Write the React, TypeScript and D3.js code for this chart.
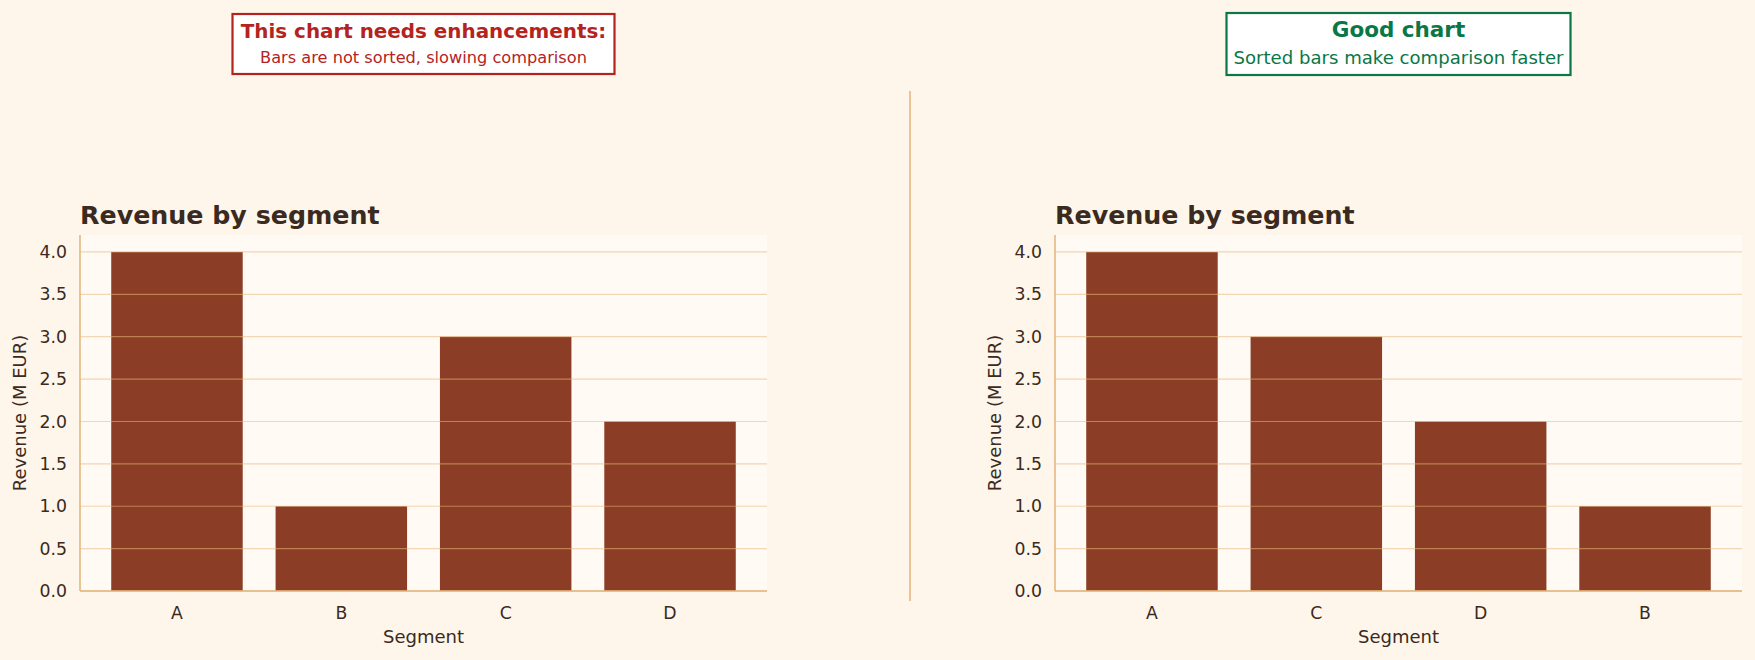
import React from 'react';
import * as d3 from 'd3';

// data
const segments = ['A', 'B', 'C', 'D'];
const revenue = [4, 1, 3, 2];
const yTicks = [0, 0.5, 1, 1.5, 2, 2.5, 3, 3.5, 4];

const W = 1755;
const H = 660;
const top = 235;
const bottom = 591;
const font = 'DejaVu Sans, sans-serif';
const ink = '#3a2a20';
const spine = '#e3b37a';
const barColor = '#8b3e25';

const y = d3.scaleLinear().domain([0, 4.2]).range([bottom, top]);

function Panel({ x0, x1, order, box }) {
  const data = order.map((s) => ({ seg: s, value: revenue[segments.indexOf(s)] }));
  const x = d3
    .scaleBand()
    .domain(order)
    .range([x0, x1])
    .paddingInner(0.2)
    .paddingOuter(0.19);
  const cx = (x0 + x1) / 2;
  return (
    <g fontFamily={font}>
      <rect x={x0} y={top} width={x1 - x0} height={bottom - top} fill="#fffaf3" />
      {data.map((d) => (
        <rect
          key={d.seg}
          x={x(d.seg)}
          y={y(d.value)}
          width={x.bandwidth()}
          height={bottom - y(d.value)}
          fill={barColor}
        />
      ))}
      {yTicks.map((t) => (
        <g key={t}>
          <line x1={x0} x2={x1} y1={y(t)} y2={y(t)} stroke="#eab880" strokeOpacity={0.55} strokeWidth={1.2} />
          <text x={x0 - 13} y={y(t)} dy="0.35em" textAnchor="end" fontSize={17.3} fill={ink}>
            {t.toFixed(1)}
          </text>
        </g>
      ))}
      <line x1={x0} x2={x0} y1={top} y2={bottom} stroke={spine} strokeWidth={1.5} />
      <line x1={x0} x2={x1} y1={bottom} y2={bottom} stroke={spine} strokeWidth={1.5} />
      {data.map((d) => (
        <text
          key={d.seg}
          x={x(d.seg) + x.bandwidth() / 2}
          y={619}
          textAnchor="middle"
          fontSize={17.3}
          fill={ink}
        >
          {d.seg}
        </text>
      ))}
      <text x={cx} y={643} textAnchor="middle" fontSize={18} fill={ink}>
        Segment
      </text>
      <text
        transform={`translate(${x0 - 54},${(top + bottom) / 2}) rotate(-90)`}
        textAnchor="middle"
        fontSize={18}
        fill={ink}
      >
        Revenue (M EUR)
      </text>
      <text x={x0} y={224} fontSize={25.3} fontWeight="bold" fill={ink}>
        Revenue by segment
      </text>
      <rect
        x={cx - box.w / 2}
        y={box.y0}
        width={box.w}
        height={box.h}
        fill="#ffffff"
        stroke={box.color}
        strokeWidth={2.2}
      />
      <text x={cx} y={box.t1} textAnchor="middle" fontSize={box.f1} fontWeight="bold" fill={box.color}>
        {box.title}
      </text>
      <text x={cx} y={box.t2} textAnchor="middle" fontSize={box.f2} fill={box.color}>
        {box.sub}
      </text>
    </g>
  );
}

export default function App() {
  const sorted = [...segments].sort(
    (a, b) => revenue[segments.indexOf(b)] - revenue[segments.indexOf(a)],
  );
  return (
    <svg
      width={W}
      height={H}
      style={{ position: 'absolute', left: 0, top: 0, background: '#fef6eb' }}
    >
      <rect width={W} height={H} fill="#fef6eb" />
      <Panel
        x0={80}
        x1={767}
        order={segments}
        box={{
          w: 382,
          y0: 14,
          h: 60,
          t1: 38,
          t2: 63,
          f1: 19.9,
          f2: 16.2,
          color: '#b5231f',
          title: 'This chart needs enhancements:',
          sub: 'Bars are not sorted, slowing comparison',
        }}
      />
      <Panel
        x0={1055}
        x1={1742}
        order={sorted}
        box={{
          w: 344,
          y0: 13,
          h: 62,
          t1: 37,
          t2: 64,
          f1: 21.5,
          f2: 18.1,
          color: '#0a7747',
          title: 'Good chart',
          sub: 'Sorted bars make comparison faster',
        }}
      />
      <line x1={910} x2={910} y1={91} y2={601} stroke={spine} strokeWidth={1.5} />
    </svg>
  );
}
